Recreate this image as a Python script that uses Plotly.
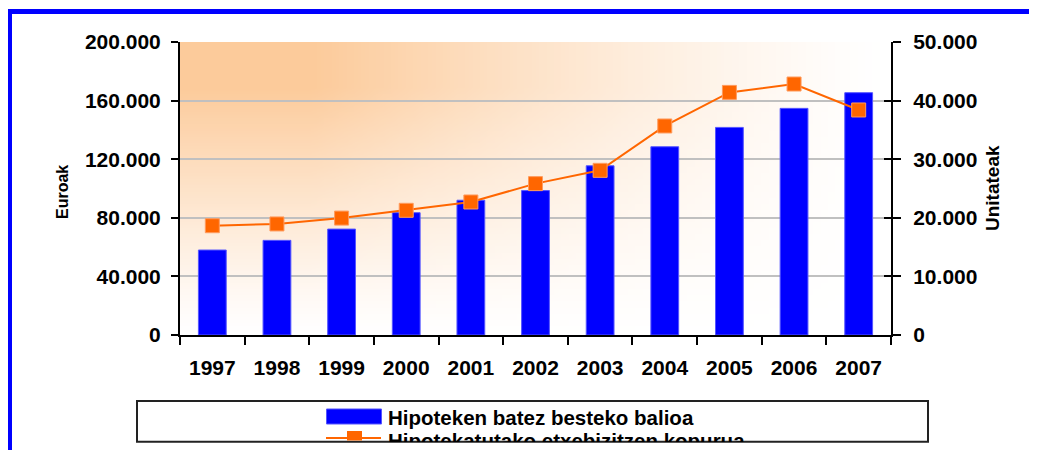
import zlib, struct, base64
import plotly.graph_objects as go

# ---------------- data ----------------
years = ["1997", "1998", "1999", "2000", "2001", "2002", "2003", "2004", "2005", "2006", "2007"]
avg_value = [58000, 64600, 72300, 83500, 92000, 98600, 115500, 128500, 141700, 154700, 165400]
num_dwellings = [18650, 18950, 19950, 21280, 22700, 25830, 28100, 35670, 41400, 42830, 38400]
left_ticks = [0, 40000, 80000, 120000, 160000, 200000]
left_ticktext = ["0", "40.000", "80.000", "120.000", "160.000", "200.000"]
right_ticks = [0, 10000, 20000, 30000, 40000, 50000]
right_ticktext = ["0", "10.000", "20.000", "30.000", "40.000", "50.000"]
bar_name = "Hipoteken batez besteko balioa"
line_name = "Hipotekatutako etxebizitzen kopurua"
left_title = "Euroak"
right_title = "Unitateak"

# ---------------- geometry ----------------
# the page body has an 8px default margin, so figure pixels = screen pixels - 8
OFF = 8
W, H = 1037, 450
PX0, PX1, PY0, PY1 = 180 - OFF, 891 - OFF, 42 - OFF, 335 - OFF  # plot area (figure px)


def xp(px):
    px = px - OFF
    return (px - PX0) / (PX1 - PX0)


def yp(py):
    py = py - OFF
    return (PY1 - py) / (PY1 - PY0)


# ---------------- gradient background (png) ----------------
def gradient_png(w, h):
    base = (252, 203, 155)
    rows = []
    for j in range(h):
        v = j / (h - 1)
        g = min(1.0, 1.2 * (1 - v) ** 1.15)
        row = bytearray([0])
        for i in range(w):
            u = i / (w - 1)
            hh = min(1.0, 1.3 * (1 - u) ** 1.3)
            t = hh * g
            for c in base:
                row.append(int(round(255 * (1 - t) + c * t)))
        rows.append(bytes(row))
    raw = b"".join(rows)

    def chunk(tag, data):
        c = struct.pack(">I", len(data)) + tag + data
        return c + struct.pack(">I", zlib.crc32(tag + data) & 0xffffffff)

    png = b"\x89PNG\r\n\x1a\n"
    png += chunk(b"IHDR", struct.pack(">IIBBBBB", w, h, 8, 2, 0, 0, 0))
    png += chunk(b"IDAT", zlib.compress(raw, 9))
    png += chunk(b"IEND", b"")
    return "data:image/png;base64," + base64.b64encode(png).decode()


FONT = "Arial, 'Liberation Sans', sans-serif"
TICKFONT = dict(size=21, family=FONT, weight="bold", color="black")

fig = go.Figure()
fig.add_trace(go.Bar(
    x=years, y=avg_value, name=bar_name, yaxis="y",
    marker=dict(color="#0000FF", line=dict(color="#5555FF", width=1)),
    width=0.43, showlegend=False,
))
fig.add_trace(go.Scatter(
    x=years, y=num_dwellings, name=line_name, yaxis="y2", mode="lines+markers",
    line=dict(color="#FF6600", width=2),
    marker=dict(symbol="square", size=14, color="#FF6600", line=dict(color="#FF9A5C", width=1)),
    showlegend=False,
))

fig.update_layout(
    width=W, height=H,
    margin=dict(l=PX0, r=W - PX1, t=PY0, b=H - PY1, pad=0),
    paper_bgcolor="white", plot_bgcolor="white",
    font=dict(family=FONT, size=20, color="black", weight="bold"),
    showlegend=False,
    xaxis=dict(
        type="category", range=[-0.5, 10.5], showgrid=False,
        showline=True, linecolor="black", linewidth=2,
        ticks="outside", ticklen=8, tickwidth=2, tickcolor="black",
        tickson="boundaries", ticklabelstandoff=13,
        tickfont=TICKFONT,
    ),
    yaxis=dict(
        range=[0, 200000], tickvals=left_ticks, ticktext=left_ticktext,
        showgrid=True, gridcolor="#C0C0C0", gridwidth=2,
        showline=True, linecolor="black", linewidth=2,
        ticks="outside", ticklen=7, tickwidth=2, tickcolor="black",
        ticklabelstandoff=6, zeroline=False,
        tickfont=TICKFONT,
    ),
    yaxis2=dict(
        range=[0, 50000], tickvals=right_ticks, ticktext=right_ticktext,
        overlaying="y", side="right", showgrid=False,
        showline=True, linecolor="black", linewidth=2,
        ticks="outside", ticklen=8, tickwidth=2, tickcolor="black",
        ticklabelstandoff=8, zeroline=False,
        tickfont=TICKFONT,
    ),
    yaxis3=dict(
        range=[0, 50000], tickvals=right_ticks, overlaying="y", side="right",
        showgrid=False, showline=False, showticklabels=False,
        ticks="inside", ticklen=7, tickwidth=2, tickcolor="black", zeroline=False,
    ),
)

# invisible helper trace so yaxis3 (inner half of the crossing ticks) is drawn
fig.add_trace(go.Scatter(x=[years[0]], y=[0], yaxis="y3", mode="markers",
                         marker=dict(opacity=0), hoverinfo="skip", showlegend=False))

fig.add_layout_image(dict(
    source=gradient_png(96, 48), xref="paper", yref="paper",
    x=0, y=1, sizex=1, sizey=1, xanchor="left", yanchor="top",
    sizing="stretch", layer="below",
))

shapes = []
# blue frame
shapes.append(dict(type="rect", xref="paper", yref="paper",
                   x0=xp(9.5), x1=xp(1060), y0=yp(11.5), y1=yp(480),
                   line=dict(color="#0000FF", width=5), fillcolor="rgba(0,0,0,0)"))
# legend box
shapes.append(dict(type="rect", xref="paper", yref="paper",
                   x0=xp(137), x1=xp(928), y0=yp(401), y1=yp(441.7),
                   line=dict(color="#222222", width=2), fillcolor="white"))
# legend swatch bar
shapes.append(dict(type="rect", xref="paper", yref="paper",
                   x0=xp(326.5), x1=xp(381.5), y0=yp(409), y1=yp(424),
                   line=dict(color="#5555FF", width=1), fillcolor="#0000FF"))
# legend line + marker
shapes.append(dict(type="line", xref="paper", yref="paper",
                   x0=xp(326), x1=xp(381), y0=yp(438), y1=yp(438),
                   line=dict(color="#FF6600", width=2)))
shapes.append(dict(type="rect", xref="paper", yref="paper",
                   x0=xp(347), x1=xp(362), y0=yp(431), y1=yp(440.5),
                   line=dict(color="#FF6600", width=0), fillcolor="#FF6600"))
fig.update_layout(shapes=shapes)

annotations = [
    dict(text=left_title, xref="paper", yref="paper", x=xp(62.5), y=yp(192.5),
         textangle=-90, showarrow=False, xanchor="center", yanchor="middle",
         font=dict(size=16, family=FONT, weight="bold")),
    dict(text=right_title, xref="paper", yref="paper", x=xp(992.5), y=yp(188.5),
         textangle=-90, showarrow=False, xanchor="center", yanchor="middle",
         font=dict(size=19, family=FONT, weight="bold")),
    dict(text=bar_name, xref="paper", yref="paper", x=xp(386), y=yp(417),
         showarrow=False, xanchor="left", yanchor="middle",
         font=dict(size=20.5, family=FONT, weight="bold")),
    dict(text=line_name, xref="paper", yref="paper", x=xp(386), y=yp(427),
         showarrow=False, xanchor="left", yanchor="top", height=13, width=420,
         valign="top", align="left",
         font=dict(size=20.5, family=FONT, weight="bold")),
]
fig.update_layout(annotations=annotations)

fig.write_html("out.html")
